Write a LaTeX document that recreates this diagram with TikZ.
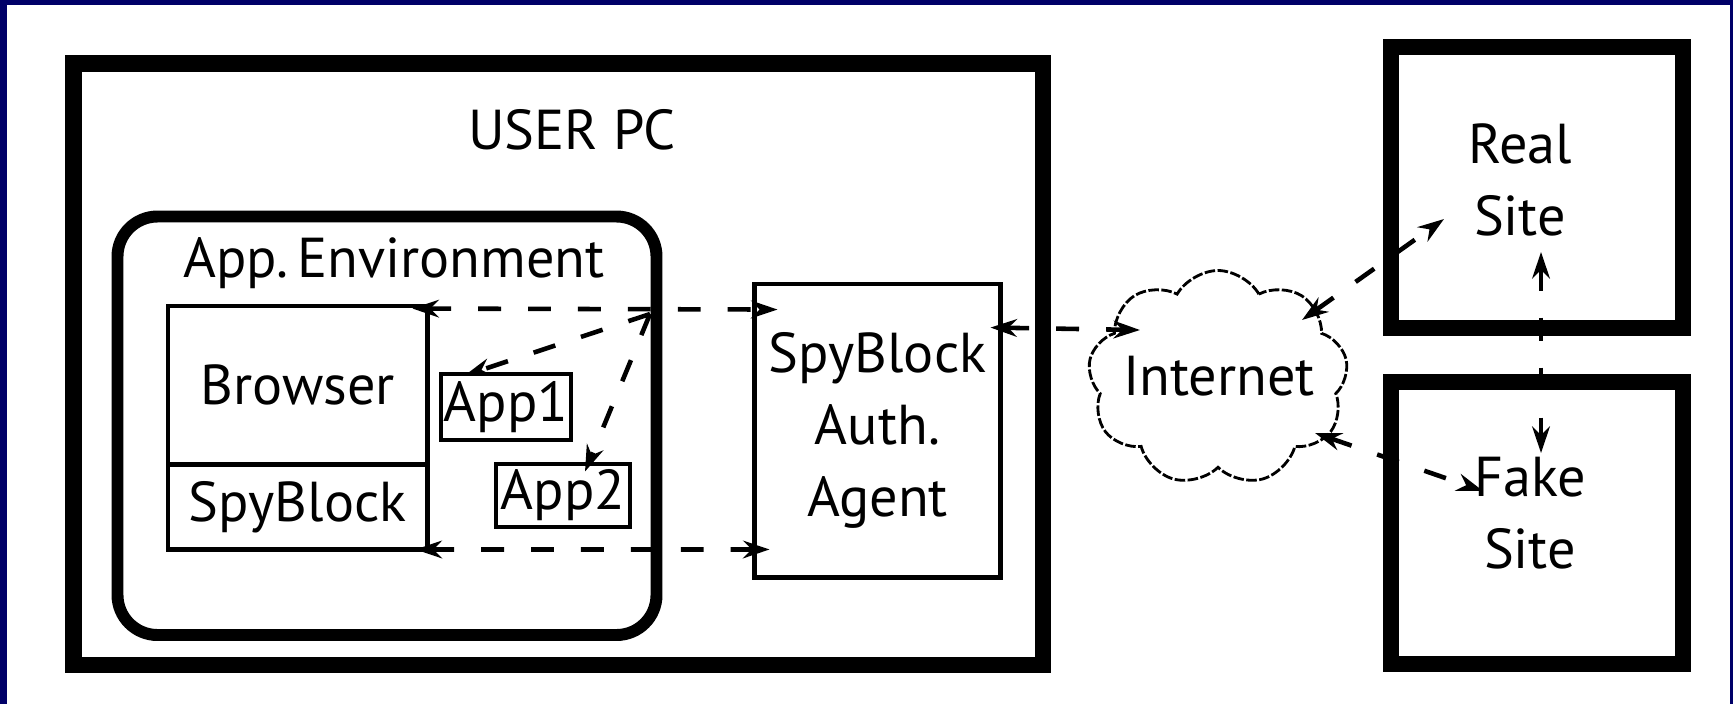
\documentclass[tikz,border=0pt]{standalone}
\usepackage{fontspec}
\setmainfont{PT Sans}
\usetikzlibrary{arrows.meta,calc,shapes.symbols}
\definecolor{navy}{RGB}{0,0,104}

\tikzset{
  frame/.style={draw=black, line width=4.6pt},
  cell/.style={draw=black, line width=1.4pt, inner sep=0pt},
  lbl/.style={font=\fontsize{16}{20.5}\selectfont, align=center},
  dline/.style={line width=1.3pt, dash pattern=on 6.5pt off 7.7pt,
    {Stealth[length=7.5pt,width=5pt]}-{Stealth[length=7.5pt,width=5pt]}},
  dline1/.style={line width=1.3pt, dash pattern=on 6.5pt off 7.7pt,
    -{Stealth[length=7.5pt,width=5pt]}},
}

\begin{document}
\begin{tikzpicture}

% background
\fill[navy] (0,0) rectangle (17.33,-7.04);
\fill[white] (0.07,-0.05) rectangle (17.30,-7.04);

% user pc and app environment
\draw[frame] (0.735,-0.635) rectangle (10.43,-6.65);
\draw[black, line width=3.4pt, rounded corners=0.4cm] (1.175,-2.165) rectangle (6.565,-6.35);
\node[lbl] (pc) at (5.72,-1.30) {USER PC};
\node[lbl, anchor=base] (env) at (3.94,-2.77) {App.\,Environment};

% boxes inside
\node[cell, lbl, minimum width=2.595cm, minimum height=1.585cm] (browser) at (2.9775,-3.8525) {Browser};
\node[cell, lbl, minimum width=2.595cm, minimum height=0.85cm] (spy) at (2.9775,-5.07) {SpyBlock};
\node[cell, lbl, minimum width=1.30cm, minimum height=0.66cm] (app1) at (5.06,-4.07) {App1};
\node[cell, lbl, minimum width=1.34cm, minimum height=0.63cm] (app2) at (5.63,-4.955) {App2};
\node[cell, lbl, minimum width=2.46cm, minimum height=2.935cm] (agent) at (8.775,-4.3075) {SpyBlock\\Auth.\\Agent};

% internet and sites
\node[cloud, draw=black, line width=0.8pt, dash pattern=on 3pt off 0.7pt, cloud puffs=9,
  cloud puff arc=120, aspect=1.2, minimum width=2.6cm, minimum height=2.15cm, inner sep=0pt] (net) at (12.18,-3.78) {};
\node[lbl] (nettxt) at (12.19,-3.76) {Internet};
\node[frame, minimum width=2.92cm, minimum height=2.81cm] (real) at (15.37,-1.875) {};
\node[frame, minimum width=2.92cm, minimum height=2.82cm] (fake) at (15.37,-5.23) {};
\node[lbl] (realtxt) at (15.20,-1.80) {Real\\Site};
\node[lbl] (faketxt) at (15.30,-5.13) {Fake\\Site};

% connectors
\coordinate (hub) at (6.50,-3.14);
\draw[dline] ($(browser.north east)+(-0.175,-0.05)$) -- ($(agent.north west)+(0.255,-0.28)$);
\draw[dline] ($(spy.south east)+(-0.145,0.025)$) -- ($(agent.south west)+(0.175,0.305)$);
\draw[dline1] (hub) -- ($(app1.north west)+(0.26,-0.04)$);
\draw[dline1] (hub) -- ($(app2.north)+(0.22,-0.10)$);
\draw[dline] ($(agent.north east)+(-0.125,-0.46)$) -- ($(net.center)+(-0.78,0.48)$);
\draw[dline] ($(net.center)+(0.84,0.58)$) -- ($(real.center)+(-0.93,-0.315)$);
\draw[dline] ($(net.center)+(0.97,-0.55)$) -- ($(fake.center)+(-0.54,0.32)$);
\draw[dline] ($(real.center)+(0.04,-0.645)$) -- ($(fake.center)+(0.04,0.70)$);
\end{tikzpicture}
\end{document}
